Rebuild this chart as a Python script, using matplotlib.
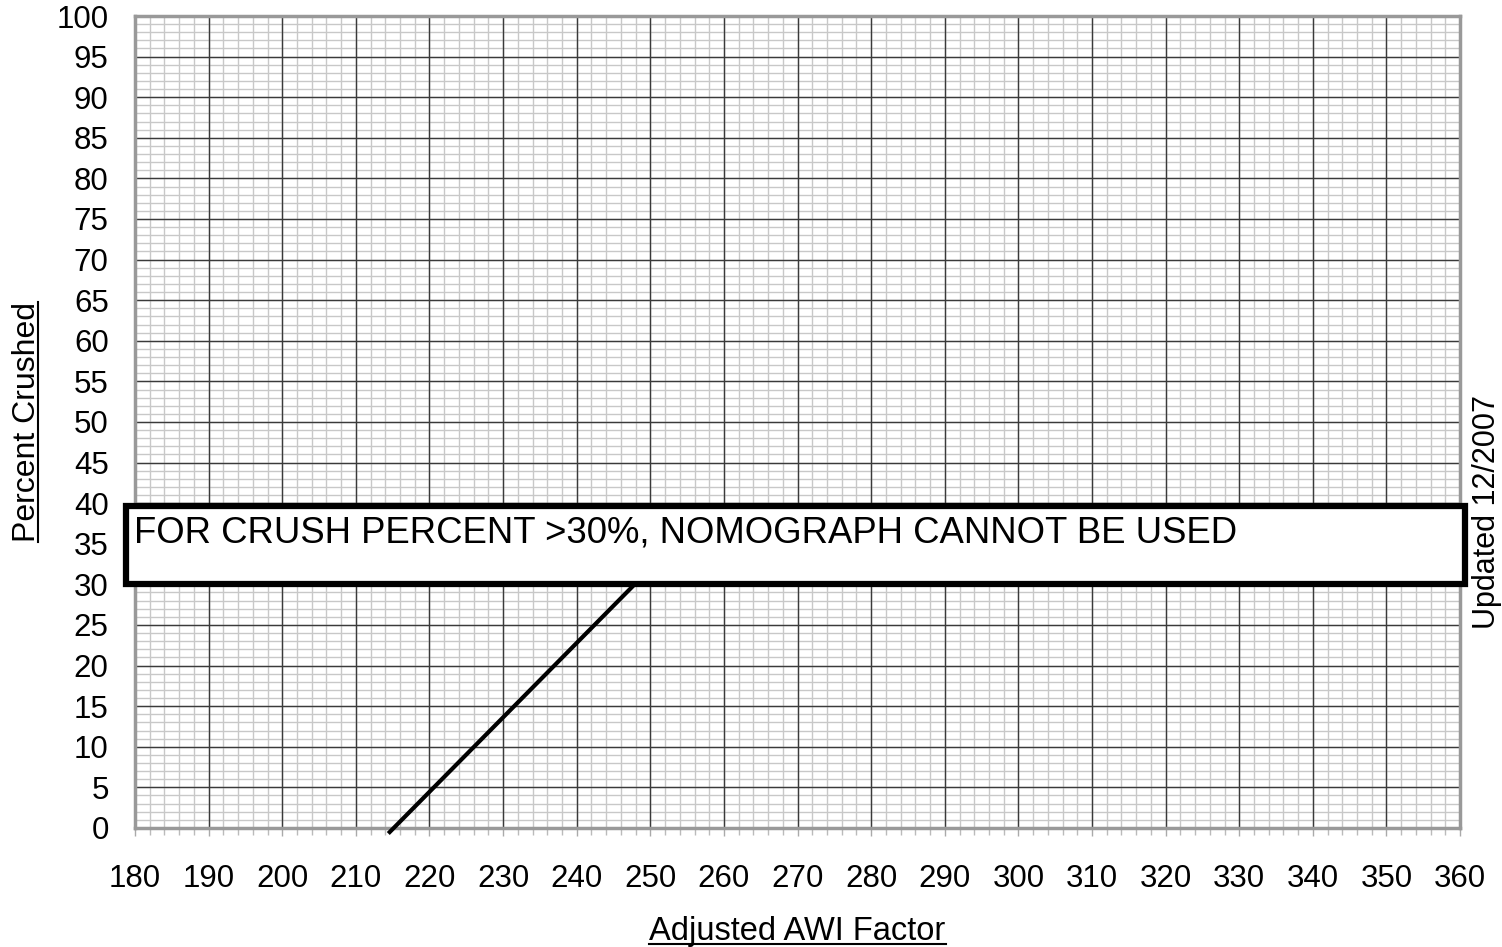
import numpy as np
import matplotlib
matplotlib.use("Agg")
import matplotlib.pyplot as plt
from matplotlib.patches import Rectangle
from matplotlib.lines import Line2D

plt.rcParams['font.family'] = ['Liberation Sans', 'DejaVu Sans']

# nomograph line (AWI factor vs percent crushed)
awi = [214.6, 248.3]
crushed = [-0.5, 30.4]

x_ticks = list(range(180, 361, 10))
y_ticks = list(range(0, 101, 5))
x_minor = np.arange(180, 361, 2)
y_minor = np.arange(0, 101, 1)
box_x = [178.8, 360.6]
box_y = [30.1, 39.65]
note = "FOR CRUSH PERCENT >30%, NOMOGRAPH CANNOT BE USED"

fig = plt.figure(figsize=(15.02, 9.47), dpi=100)
ax = fig.add_axes([0.0899, 0.1257, 0.8822, 0.8574])
ax.set_xlim(180, 360)
ax.set_ylim(0, 100)

ax.set_xticks(x_ticks)
ax.set_yticks(y_ticks)
ax.set_xticks(x_minor, minor=True)
ax.set_yticks(y_minor, minor=True)

# graph-paper grid: light minor lines, darker major lines on top
for v in x_minor:
    ax.axvline(v, color='#c8c8c8', linewidth=1.0, zorder=0.5)
for v in y_minor:
    ax.axhline(v, color='#c8c8c8', linewidth=1.0, zorder=0.5)
for v in x_ticks:
    ax.axvline(v, color='#3a3a3a', linewidth=1.0, zorder=0.6)
for v in y_ticks:
    ax.axhline(v, color='#3a3a3a', linewidth=1.0, zorder=0.6)

ax.tick_params(axis='both', which='major', labelsize=22.5)
ax.tick_params(axis='x', which='major', length=6, color='#aaaaaa', width=1, pad=20)
ax.tick_params(axis='y', which='major', length=0, pad=19)
ax.tick_params(axis='x', which='minor', length=5, color='#bbbbbb', width=1)
ax.tick_params(axis='y', which='minor', length=0)
for s in ax.spines.values():
    s.set_color('#999999')
    s.set_linewidth(2.5)
    s.set_zorder(2)

ax.plot(awi, crushed, color='black', linewidth=3, clip_on=False, zorder=3)

rect = Rectangle((box_x[0], box_y[0]), box_x[1] - box_x[0], box_y[1] - box_y[0],
                 facecolor='white', edgecolor='black', linewidth=4.5, zorder=4,
                 clip_on=False)
ax.add_patch(rect)
ax.text(179.8, 35.2, note, fontsize=26.3, va='baseline', ha='left', zorder=5)

t1 = fig.text(35 / 1502, 0.5544, "Percent Crushed", rotation=90, fontsize=23,
              ha='center', va='baseline', rotation_mode='anchor')
t2 = fig.text(0.531, 1 - 940 / 947, "Adjusted AWI Factor", fontsize=23.5,
              ha='center', va='baseline')
fig.text(1495 / 1502, 0.4593, "Updated 12/2007", rotation=90, fontsize=22,
         ha='center', va='baseline', rotation_mode='anchor')

# underline the axis titles
fig.canvas.draw()
r = fig.canvas.get_renderer()
inv = fig.transFigure.inverted()
b = t2.get_window_extent(r)
(x0, _), (x1, _) = inv.transform([(b.x0, 0), (b.x1, 0)])
yu = 1 - 944 / 947
fig.add_artist(Line2D([x0, x1], [yu, yu], color='black', linewidth=1.5))
b = t1.get_window_extent(r)
(_, y0), (_, y1) = inv.transform([(0, b.y0), (0, b.y1)])
xu = 38 / 1502
fig.add_artist(Line2D([xu, xu], [y0, y1], color='black', linewidth=1.5))

fig.savefig("out.png", dpi=100)
